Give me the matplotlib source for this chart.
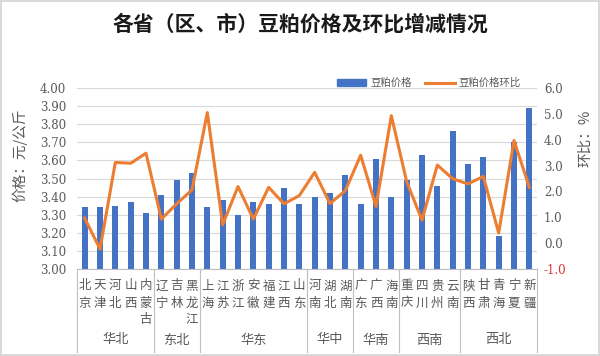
import matplotlib
matplotlib.use('Agg')
import matplotlib.pyplot as plt
import matplotlib.transforms as mtransforms
from matplotlib.lines import Line2D
from matplotlib.patches import Patch
import numpy as np

plt.rcParams['font.family'] = ['Noto Sans CJK SC', 'DejaVu Sans']

provinces = ['北京', '天津', '河北', '山西', '内蒙古',
             '辽宁', '吉林', '黑龙江',
             '上海', '江苏', '浙江', '安徽', '福建', '江西', '山东',
             '河南', '湖北', '湖南',
             '广东', '广西', '海南',
             '重庆', '四川', '贵州', '云南',
             '陕西', '甘肃', '青海', '宁夏', '新疆']
regions = ['华北', '东北', '华东', '华中', '华南', '西南', '西北']
region_sizes = [5, 3, 7, 3, 3, 4, 5]

price = [3.34, 3.34, 3.35, 3.37, 3.31,
         3.41, 3.49, 3.53,
         3.34, 3.38, 3.30, 3.37, 3.36, 3.45, 3.36,
         3.40, 3.42, 3.52,
         3.36, 3.61, 3.40,
         3.49, 3.63, 3.46, 3.76,
         3.58, 3.62, 3.18, 3.70, 3.89]
mom = [0.97, -0.23, 3.12, 3.09, 3.48,
       0.93, 1.52, 2.06,
       5.05, 0.71, 2.19, 0.93, 2.16, 1.52, 1.84,
       2.74, 1.53, 2.03,
       3.40, 1.42, 4.93,
       2.38, 0.89, 3.02, 2.49,
       2.29, 2.58, 0.39, 3.97, 2.16]

gray = '#595959'
fig = plt.figure(figsize=(6, 3.56), dpi=100)
fig.patch.set_edgecolor('#D9D9D9')
fig.patch.set_linewidth(1.5)

ax = fig.add_axes([77/600, 1-269/356, 460/600, 181/356])
x = np.arange(len(provinces))
ax.bar(x, price, width=0.38, color='#4472C4', zorder=2)
ax.set_xlim(-0.5, len(provinces) - 0.5)
ax.set_ylim(3.0, 4.0)
ax.set_yticks(np.arange(3.0, 4.001, 0.1))
ax.set_yticklabels(['%.2f' % v for v in np.arange(3.0, 4.001, 0.1)],
                   family='DejaVu Serif', fontsize=8.5, color=gray)
ax.tick_params(axis='y', length=0, pad=8)
ax.set_xticks([])
ax.grid(axis='y', color='#D9D9D9', linewidth=0.8, zorder=0)
ax.set_axisbelow(True)
for s in ['left', 'right', 'top']:
    ax.spines[s].set_visible(False)
ax.spines['bottom'].set_color('#BFBFBF')

ax2 = ax.twinx()
ax2.plot(x, mom, color='#ED7D31', linewidth=2.2, zorder=3)
ax2.set_ylim(-1.0, 6.0)
ax2.set_yticks(np.arange(-1, 7, 1))
ax2.set_yticklabels(['%.1f' % v for v in np.arange(-1, 7, 1)],
                    family='DejaVu Serif', fontsize=8.5, color=gray)
ax2.get_yticklabels()[0].set_color('#E0303A')
ax2.tick_params(axis='y', length=0, pad=5)
for s in ['left', 'right', 'top', 'bottom']:
    ax2.spines[s].set_visible(False)

# category labels, one character per row
trans = mtransforms.blended_transform_factory(ax.transData, fig.transFigure)
rows = [286, 303, 319]
for i, name in enumerate(provinces):
    for j, ch in enumerate(name):
        ax.text(i, 1 - rows[j]/356, ch, transform=trans, ha='center', va='center',
                fontsize=9, color=gray)

start = -0.5
bounds = [start]
for reg, n in zip(regions, region_sizes):
    ax.text(start + n/2, 1 - 340/356, reg, transform=trans, ha='center', va='center',
            fontsize=9.5, color=gray)
    start += n
    bounds.append(start)
for b in bounds:
    ax.add_line(Line2D([b, b], [1 - 269/356, 1 - 352/356], transform=trans,
                       color='#BFBFBF', linewidth=0.8, clip_on=False))

fig.text(300/600, 1 - 24/356, '各省（区、市）豆粕价格及环比增减情况', ha='center', va='center',
         fontsize=15, fontweight='bold', color='#1a1a1a')
fig.text(20/600, 1 - 155/356, '价格：元/公斤', rotation=90, ha='center', va='center',
         fontsize=10.5, color=gray)
fig.text(585/600, 1 - 138/356, '环比：%', rotation=90, ha='center', va='center',
         fontsize=10.5, color=gray)

handles = [Patch(color='#4472C4'), Line2D([], [], color='#ED7D31', linewidth=2.2)]
fig.legend(handles, ['豆粕价格', '豆粕价格环比'], loc='center left',
           bbox_to_anchor=(337/600, 1 - 83/356), ncol=2, frameon=False,
           fontsize=7.5, handlelength=2.8, handleheight=0.6, handletextpad=0.4,
           columnspacing=1.3, borderpad=0, borderaxespad=0, labelcolor=gray)

fig.savefig('out.png', dpi=100)
